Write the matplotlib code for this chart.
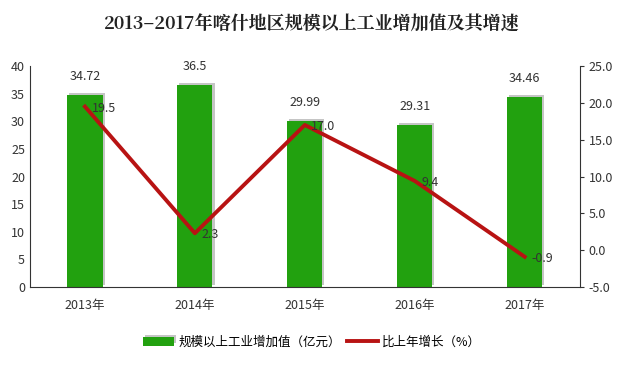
import matplotlib.pyplot as plt
import matplotlib.patheffects as pe
import numpy as np

plt.rcParams['font.family'] = ['Noto Sans CJK SC', 'DejaVu Sans']

years = ['2013年', '2014年', '2015年', '2016年', '2017年']
value = [34.72, 36.5, 29.99, 29.31, 34.46]
growth = [19.5, 2.3, 17.0, 9.4, -0.9]

x = np.arange(len(years))

fig = plt.figure(figsize=(6.24, 3.67), dpi=100)
ax = fig.add_axes([0.048, 0.218, 0.881, 0.602])

# 柱子加一点灰色阴影
bars = ax.bar(x, value, width=0.32, color='#22a10f', label='规模以上工业增加值（亿元）',
              path_effects=[pe.SimplePatchShadow(offset=(1.5, 1.5), shadow_rgbFace='gray', alpha=0.45),
                            pe.Normal()])
ax.set_ylim(0, 40)
ax.set_yticks(range(0, 41, 5))
ax.set_xlim(-0.5, 4.5)
ax.set_xticks(x)
ax.set_xticklabels(years)
ax.tick_params(axis='y', length=0, labelsize=9, colors='#333333')
ax.tick_params(axis='x', length=0, labelsize=9, colors='#333333', pad=9)
ax.spines['top'].set_visible(False)
ax.spines['right'].set_visible(False)
ax.spines['left'].set_color('#333333')
ax.spines['bottom'].set_color('#333333')

for i, v in enumerate(value):
    ax.text(x[i], v + 2.2, '%g' % v, ha='center', va='bottom', fontsize=9, color='#333333')

# 右轴：增长率折线
ax2 = ax.twinx()
line, = ax2.plot(x, growth, color='#b81313', linewidth=2.8, label='比上年增长（%）')
ax2.set_ylim(-5, 25)
ax2.set_yticks(np.arange(-5, 26, 5))
ax2.set_yticklabels(['%.1f' % t for t in np.arange(-5, 26, 5)])
ax2.tick_params(axis='y', length=3, labelsize=9, colors='#333333')
ax2.spines['top'].set_visible(False)
ax2.spines['left'].set_visible(False)
ax2.spines['bottom'].set_visible(False)
ax2.spines['right'].set_color('#333333')

for i, g in enumerate(growth):
    ax2.text(x[i] + 0.06, g - 0.2, '%.1f' % g, ha='left', va='center', fontsize=9, color='#333333')

fig.legend(handles=[bars, line], loc='center', bbox_to_anchor=(0.5, 0.068), ncol=2,
           frameon=False, fontsize=9, handlelength=2.5, columnspacing=0.5, handletextpad=0.3)

fig.text(0.5, 0.935, '2013–2017年喀什地区规模以上工业增加值及其增速', ha='center', va='center',
         fontsize=13, fontweight='bold', color='#222222',
         family=['Noto Serif CJK SC', 'Noto Sans CJK SC', 'DejaVu Sans'])

plt.savefig('out.png', dpi=100)
